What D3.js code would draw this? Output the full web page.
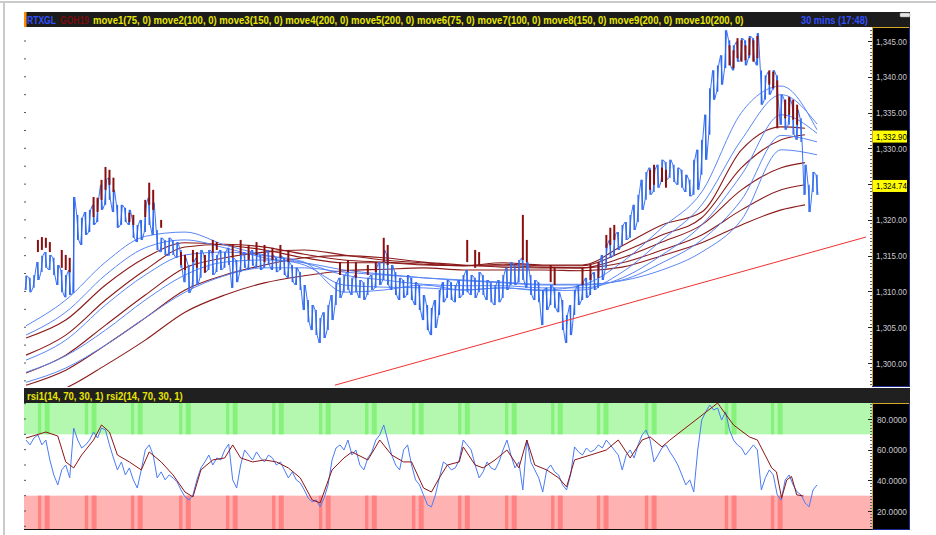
<!DOCTYPE html>
<html lang="en">
<head>
<meta charset="utf-8">
<style>
  html, body { margin:0; padding:0; background:#fff; overflow:hidden }
  svg { display:block; font-family: "Liberation Sans", Arial, sans-serif; }
</style>
</head>
<body>
<svg width="936" height="535"></svg>
<script src="https://cdn.jsdelivr.net/npm/d3@7"></script>
<script>
// --- RTXGL 30 min bars (high / low), one entry per bar
var blueHi = [
1312.2,1311.9,1312.3,1314.1,1315.0,1315.5,1315.1,1314.7,1313.7,1313.0,
1312.3,1313.0,1323.2,1320.7,1320.3,1321.1,1321.4,1322.1,1322.8,1324.9,
1325.6,1325.9,1324.2,1322.1,1322.1,1321.7,1321.4,1320.0,1319.3,1320.0,
1322.1,1323.1,1322.4,1318.6,1317.5,1317.2,1317.5,1317.2,1316.9,1315.8,
1314.7,1313.7,1314.1,1314.7,1315.8,1315.1,1315.8,1315.5,1315.1,1315.8,
1315.5,1316.1,1314.7,1314.4,1315.1,1315.5,1315.1,1315.8,1315.5,1315.1,
1315.4,1315.8,1315.1,1314.7,1315.0,1314.7,1314.1,1313.7,1313.3,1312.7,
1310.9,1308.8,1308.1,1307.4,1306.3,1307.1,1308.1,1309.5,1311.3,1311.9,
1312.3,1312.7,1311.9,1312.3,1311.6,1311.3,1311.9,1312.3,1313.3,1314.1,
1315.8,1315.1,1313.7,1312.7,1311.9,1311.6,1312.3,1311.9,1311.3,1310.9,
1309.5,1308.1,1307.7,1308.8,1310.2,1311.3,1311.6,1311.3,1310.9,1311.6,
1312.3,1313.0,1312.3,1311.9,1312.7,1312.3,1311.6,1311.3,1310.9,1311.6,
1312.3,1313.3,1314.1,1313.7,1314.4,1314.7,1314.1,1312.3,1311.6,1311.3,
1310.2,1310.5,1310.9,1310.5,1309.9,1308.8,1306.7,1308.1,1310.2,1310.9,
1311.3,1311.9,1312.3,1312.7,1313.7,1315.1,1316.5,1317.2,1317.9,1318.3,
1319.3,1319.7,1320.7,1322.1,1323.5,1325.6,1326.7,1327.3,1327.0,1327.7,
1328.4,1328.1,1328.4,1327.7,1327.3,1327.0,1326.3,1325.6,1328.4,1329.8,
1331.2,1334.7,1338.4,1340.9,1341.6,1343.0,1346.5,1345.1,1344.4,1344.9,
1345.4,1345.1,1345.7,1345.4,1346.1,1340.9,1340.2,1340.7,1340.9,1340.2,
1337.5,1336.8,1337.0,1336.1,1335.4,1334.2,1327.7,1324.9,1326.7,1326.3
];
var blueLo = [
1310.2,1309.9,1310.5,1311.6,1312.7,1313.3,1313.0,1312.3,1310.9,1309.9,
1309.2,1309.5,1309.8,1317.2,1316.5,1317.9,1318.3,1319.3,1319.7,1321.4,
1322.1,1322.8,1321.1,1318.9,1319.3,1319.7,1319.3,1317.5,1316.9,1317.2,
1318.3,1319.3,1317.9,1315.8,1315.5,1315.1,1315.0,1315.1,1314.7,1313.3,
1311.3,1309.8,1310.5,1310.9,1311.9,1312.7,1313.0,1312.3,1312.7,1313.0,
1313.3,1313.7,1310.5,1311.3,1312.7,1313.3,1313.0,1313.6,1313.3,1313.0,
1313.3,1313.7,1313.0,1312.7,1313.0,1312.3,1311.9,1311.3,1310.9,1310.2,
1307.4,1305.7,1304.6,1303.9,1302.8,1303.5,1304.6,1306.0,1308.1,1309.1,
1309.9,1310.2,1309.5,1309.9,1309.1,1308.8,1309.5,1310.2,1310.5,1310.9,
1311.6,1310.9,1310.2,1309.5,1308.8,1309.1,1309.5,1308.8,1308.1,1307.4,
1306.0,1304.6,1303.9,1304.9,1306.7,1308.5,1309.1,1308.8,1308.5,1309.1,
1309.5,1309.9,1309.5,1309.1,1309.9,1309.5,1308.8,1308.5,1308.1,1308.5,
1309.1,1310.2,1310.9,1310.9,1311.3,1311.6,1310.5,1309.5,1308.8,1308.5,
1305.3,1307.4,1308.1,1307.7,1307.1,1304.6,1302.8,1303.9,1306.7,1308.1,
1308.8,1309.1,1309.5,1310.2,1310.5,1311.6,1313.3,1314.7,1315.1,1315.8,
1316.5,1317.2,1317.5,1318.6,1319.7,1321.4,1322.8,1323.5,1323.9,1324.5,
1325.3,1325.6,1325.9,1325.3,1324.9,1324.5,1323.9,1323.3,1323.5,1324.2,
1326.3,1328.4,1331.9,1336.8,1337.9,1338.9,1341.2,1341.6,1340.9,1342.1,
1342.3,1341.6,1342.6,1342.3,1341.6,1336.1,1336.8,1337.5,1338.2,1336.8,
1333.3,1332.6,1333.3,1331.9,1331.2,1330.9,1323.5,1321.1,1323.9,1323.5
];

// --- GOH19 bars where they show: [bar, high, low]
var redBars = [
[3,1317.2,1315.5],[4,1317.6,1315.8],[5,1317.5,1316.1],[6,1316.9,1315.5],
[9,1315.8,1313.3],[10,1315.1,1313.0],[11,1314.7,1312.7],
[17,1323.2,1320.4],[18,1323.1,1321.1],[19,1325.6,1322.8],[20,1327.4,1324.2],[21,1327.0,1324.9],[22,1325.9,1323.9],
[26,1321.0,1319.7],[27,1320.7,1319.3],[30,1322.8,1320.4],[31,1325.2,1322.1],[32,1324.2,1321.4],[34,1320.0,1318.9],
[39,1315.5,1313.7],[40,1315.1,1313.0],[42,1315.8,1314.1],[43,1315.5,1313.3],[45,1315.1,1312.6],
[47,1317.2,1315.4],[48,1316.9,1315.8],[52,1316.5,1314.7],[54,1317.2,1315.1],[56,1316.5,1314.4],
[58,1316.9,1315.1],[60,1316.5,1314.1],[62,1316.1,1314.4],[64,1316.5,1314.7],[66,1315.8,1314.1],
[79,1314.1,1312.3],[81,1314.4,1312.7],[83,1314.1,1311.9],[86,1313.7,1312.3],[88,1314.1,1312.7],
[90,1317.5,1314.1],[91,1316.5,1313.7],[111,1317.2,1314.1],[113,1315.8,1313.3],[114,1315.5,1313.7],
[125,1320.7,1314.4],[126,1317.2,1314.1],[132,1313.7,1311.3],[133,1313.3,1310.9],
[140,1313.3,1310.9],[142,1313.7,1311.6],[144,1314.1,1311.9],
[146,1317.9,1316.1],[147,1318.9,1316.5],[148,1319.3,1317.2],
[157,1327.0,1324.2],[158,1327.7,1324.9],[160,1327.3,1325.3],[161,1327.0,1324.5],
[177,1344.4,1341.6],[178,1343.7,1341.2],[179,1345.4,1342.6],[180,1345.1,1342.1],[181,1344.4,1342.3],
[182,1345.4,1343.0],[183,1345.1,1342.1],[184,1345.7,1342.6],
[187,1340.9,1338.9],[188,1340.7,1338.4],[189,1339.5,1332.8],
[191,1336.8,1334.2],[192,1337.2,1334.7],[193,1336.8,1334.0],[194,1336.1,1333.3]
];

// --- moving averages, sampled every 10 bars
var maIdxBlue = [0,10,20,30,40,50,60,70,80,90,100,110,120,130,140,150,160,170,180,190,199];
var move1 = [1305.2,1308.8,1314.1,1317.7,1318.3,1316.5,1315.1,1314.1,1309.9,1310.2,1310.9,1310.2,1310.5,1310.2,1310.9,1314.1,1318.9,1323.9,1335.0,1338.7,1332.6];
var move2 = [1303.9,1307.1,1312.3,1316.1,1317.2,1316.1,1314.7,1313.7,1310.9,1310.6,1310.5,1310.2,1310.5,1310.1,1310.2,1312.7,1317.2,1322.1,1331.2,1337.5,1333.4];
var move3 = [1300.4,1303.2,1308.1,1312.3,1315.1,1315.5,1315.0,1314.0,1312.3,1311.6,1311.0,1310.8,1310.8,1310.5,1310.5,1311.9,1315.1,1319.3,1326.3,1334.7,1332.1];
var move4 = [1298.7,1301.0,1304.6,1308.8,1312.3,1314.1,1314.4,1314.0,1313.0,1312.4,1311.9,1311.5,1311.2,1310.9,1310.9,1311.6,1314.0,1317.2,1322.8,1331.8,1330.9];
var move5 = [1297.3,1299.3,1302.5,1306.3,1309.9,1312.2,1313.3,1313.3,1312.7,1312.3,1311.9,1311.6,1311.3,1311.0,1311.0,1311.5,1313.0,1315.5,1320.0,1329.8,1329.1];

var maIdxRed = [0,10,20,30,40,50,60,70,80,90,100,110,120,130,140,150,160,170,180,190,196];
var move6  = [1303.5,1306.0,1310.9,1314.7,1316.8,1316.5,1315.8,1314.7,1314.0,1314.0,1313.7,1313.6,1314.0,1313.7,1313.7,1316.4,1319.3,1321.1,1329.8,1333.0,1332.8];
var move7  = [1301.1,1303.9,1308.8,1313.0,1316.2,1316.6,1316.2,1315.2,1314.4,1314.1,1313.8,1313.6,1313.8,1313.6,1313.6,1315.5,1317.9,1320.3,1327.3,1331.2,1331.9];
var move8  = [1298.6,1301.1,1305.3,1309.5,1313.3,1314.7,1315.5,1315.8,1315.1,1314.4,1314.0,1313.6,1313.6,1313.4,1313.3,1314.7,1316.9,1319.3,1324.2,1327.3,1328.0];
var move9  = [1296.9,1299.0,1302.5,1306.3,1310.2,1312.3,1313.7,1314.7,1315.0,1314.7,1314.1,1313.7,1313.4,1313.3,1313.3,1314.0,1315.8,1317.9,1321.4,1324.2,1324.9];
var move10 = [1294.8,1296.5,1299.7,1303.2,1307.1,1309.5,1311.2,1312.2,1312.9,1313.1,1313.3,1313.0,1313.0,1313.0,1312.9,1313.4,1315.0,1316.8,1319.3,1321.4,1322.1];

// trend line [bar, price]
var trend = [[77.7, 1296.9], [211.3, 1317.6]];

// --- RSI
var rsi1 = [
66.3,63.1,67.6,69.6,63.1,66.3,53.3,43.5,37.0,46.8,
50.0,41.6,74.1,66.3,61.1,63.1,66.3,71.5,67.6,74.1,
72.8,63.1,54.6,46.8,52.0,43.5,48.1,40.3,35.0,46.8,
59.8,63.1,56.5,41.6,45.5,40.3,43.5,41.6,39.0,33.7,
29.2,27.2,30.5,40.3,48.1,52.0,56.5,50.0,54.6,53.3,
59.8,63.7,40.3,35.0,50.0,59.8,56.5,53.3,58.5,54.6,
52.0,56.5,54.6,50.0,52.0,46.8,41.6,45.5,40.3,38.3,
33.7,28.5,25.9,27.2,22.7,28.5,37.0,53.3,61.1,63.1,
59.8,66.3,56.5,59.8,50.0,46.8,54.6,58.5,66.3,69.6,
76.1,66.3,56.5,50.0,46.8,59.8,63.1,50.0,40.3,37.0,
30.5,24.0,22.7,30.5,41.6,52.0,50.0,46.8,48.1,53.3,
66.3,63.1,59.8,50.0,41.6,45.5,52.0,48.1,46.8,52.0,
59.8,66.3,56.5,48.1,52.0,33.7,66.3,52.0,46.8,41.6,
32.4,46.8,50.0,45.5,43.5,37.0,33.7,43.5,61.8,58.5,
56.5,61.1,58.5,59.8,63.1,61.1,66.3,63.1,59.8,56.5,
46.8,56.5,59.8,54.6,63.1,69.6,72.8,66.3,52.0,56.5,
61.1,63.1,58.5,54.6,50.0,43.5,37.0,40.3,32.4,59.8,
79.3,84.6,89.1,85.9,87.2,79.3,84.6,72.8,66.3,63.1,
61.1,56.5,59.8,63.1,59.8,33.7,41.6,46.8,43.5,30.5,
27.2,40.3,43.5,37.0,32.4,30.5,25.3,22.7,33.7,37.0
];
// rsi2: [bar, value]
var rsi2 = [
[0,67.6],[5,71.5],[8,68.9],[10,52.0],[12,48.1],[14,56.5],[17,66.3],[19,76.1],[21,71.5],[23,56.5],
[26,52.0],[29,46.8],[31,58.5],[34,52.0],[37,43.5],[40,32.4],[42,29.2],[44,46.8],[47,53.3],[50,54.6],
[52,63.1],[54,54.6],[57,52.0],[60,53.3],[63,52.0],[66,48.1],[69,41.6],[72,27.2],[74,25.3],[77,46.8],
[80,54.6],[82,58.5],[86,53.3],[89,66.3],[92,56.5],[95,52.0],[97,52.0],[100,35.0],[102,32.4],[104,41.6],
[106,50.0],[109,52.0],[110,61.8],[113,50.0],[115,48.1],[118,53.3],[121,59.8],[124,48.1],[126,66.3],[128,50.0],
[131,46.8],[134,41.6],[136,35.7],[138,53.3],[142,56.5],[146,59.8],[149,66.3],[152,54.6],[155,66.3],[157,68.3],
[160,61.8],[162,66.3],[174,90.4],[178,76.1],[182,68.3],[184,66.3],[187.6,48.1],[188.8,45.5],[190.1,28.5],
[191.4,40.3],[192.6,42.5],[193.9,30.5],[195.6,29.8]
];
// bar positions of the shaded session stripes
var stripeIdx = [3.0,14.8,26.4,38.5,50.3,61.9,73.7,85.3,97.1,108.7,120.5,132.1,143.6,155.7,175.8,187.4];

var priceTicks = d3.range(1300, 1346, 5);
var rsiTicks = [20, 40, 60, 80];
var lastLabels = [["1,332.90", 1332.90, 9], ["1,324.74", 1324.74, 0]];

var movesText = "move1(75, 0) move2(100, 0) move3(150, 0) move4(200, 0) move5(200, 0) move6(75, 0) move7(100, 0) move8(150, 0) move9(200, 0) move10(200, 0)";

// ---------------- layout
var svg = d3.select("svg");
var L = 24, R = 872, AX = 910;
var pTop = 27, pBot = 387, rTop = 403, rBot = 529;

var x = d3.scaleLinear().domain([0, 199]).range([26, 817]);
var y = d3.scaleLinear().domain([1300, 1345]).range([363, 41]);
var yr = d3.scaleLinear().domain([20, 80]).range([511, 419]);

var defs = svg.append("defs");
defs.append("clipPath").attr("id", "clipP").append("rect")
    .attr("x", L).attr("y", pTop).attr("width", R - L).attr("height", pBot - pTop);
defs.append("clipPath").attr("id", "clipR").append("rect")
    .attr("x", L).attr("y", rTop).attr("width", R - L).attr("height", rBot - rTop);

// text squeezed horizontally to a given width (narrow font look)
function fitText(t, x0, yy, w, col, size, bold) {
    var el = svg.append("text").attr("x", 0).attr("y", 0).text(t)
        .attr("fill", col).attr("font-size", size)
        .attr("font-weight", bold ? "bold" : "normal");
    var n = el.node().getComputedTextLength();
    el.attr("transform", "translate(" + x0 + "," + yy + ") scale(" + (w / n) + ",1)");
    return el;
}

// outer frame
svg.append("rect").attr("x", 0).attr("y", 1).attr("width", 936).attr("height", 2).attr("fill", "#cacaca");
svg.append("rect").attr("x", 3).attr("y", 1).attr("width", 2).attr("height", 534).attr("fill", "#cacaca");

// header
svg.append("rect").attr("x", L).attr("y", 12).attr("width", AX - L).attr("height", 15).attr("fill", "#1c1c1c");
svg.append("rect").attr("x", L).attr("y", 12).attr("width", 2.5).attr("height", 15).attr("fill", "#ff8c00");
fitText("RTXGL", 27, 23.5, 29, "#3050ff", 11, true);
fitText("GOH19", 60, 23.5, 29, "#7a0c0c", 11, true);
fitText(movesText, 93, 23.5, 651, "#e6e600", 11, true);
fitText("30 mins (17:48)", 801, 23.5, 67, "#3050ff", 11, true);
svg.append("rect").attr("x", 900).attr("y", 13).attr("width", 10).attr("height", 4).attr("rx", 1)
    .attr("fill", "#e4e4e4").attr("stroke", "#9a9a9a").attr("stroke-width", 0.5);

// ---------------- price panel
var gp = svg.append("g").attr("clip-path", "url(#clipP)");
var bars = d3.range(blueHi.length);

var blueMA = [move1, move2, move3, move4, move5];
var redMA = [move6, move7, move8, move9, move10];
var lineB = d3.line().curve(d3.curveMonotoneX)
    .x(function (d, k) { return x(maIdxBlue[k]); }).y(function (d) { return y(d); });
var lineR = d3.line().curve(d3.curveMonotoneX)
    .x(function (d, k) { return x(maIdxRed[k]); }).y(function (d) { return y(d); });
gp.selectAll(".mar").data(redMA).join("path").attr("class", "mar")
    .attr("d", lineR).attr("fill", "none").attr("stroke", "#8b1a1a").attr("stroke-width", 1.1);
gp.selectAll(".mab").data(blueMA).join("path").attr("class", "mab")
    .attr("d", lineB).attr("fill", "none").attr("stroke", "#5a86f5").attr("stroke-width", 1);

// price: a zigzag running high-low-high through the bars, then the bars
var zz = [];
bars.forEach(function (i) {
    var a = y(blueHi[i]), b = y(blueLo[i]);
    if (i % 2) { zz.push([x(i) - 1, a], [x(i) + 1, b]); }
    else { zz.push([x(i) - 1, b], [x(i) + 1, a]); }
});
gp.append("path").attr("d", d3.line()(zz))
    .attr("fill", "none").attr("stroke", "#3c74f4").attr("stroke-width", 1);
gp.selectAll(".bb").data(bars).join("line").attr("class", "bb")
    .attr("x1", function (i) { return x(i); }).attr("x2", function (i) { return x(i); })
    .attr("y1", function (i) { return y(blueHi[i]); }).attr("y2", function (i) { return y(blueLo[i]); })
    .attr("stroke", "#2f68ee").attr("stroke-width", 1.4);

gp.selectAll(".rb").data(redBars).join("line").attr("class", "rb")
    .attr("x1", function (d) { return x(d[0]); }).attr("x2", function (d) { return x(d[0]); })
    .attr("y1", function (d) { return y(d[1]); }).attr("y2", function (d) { return y(d[2]); })
    .attr("stroke", "#8a1010").attr("stroke-width", 2);

gp.append("line")
    .attr("x1", x(trend[0][0])).attr("y1", y(trend[0][1]))
    .attr("x2", x(trend[1][0])).attr("y2", y(trend[1][1]))
    .attr("stroke", "#f03030").attr("stroke-width", 1);

// left edge ticks
svg.selectAll(".lt").data(d3.range(1297.5, 1346, 2.5)).join("line").attr("class", "lt")
    .attr("x1", L).attr("x2", L + 2).attr("y1", function (d) { return y(d); }).attr("y2", function (d) { return y(d); })
    .attr("stroke", "#555").attr("stroke-width", 1);

// price axis
svg.append("rect").attr("x", R).attr("y", pTop).attr("width", AX - R).attr("height", pBot - pTop).attr("fill", "#000");
svg.append("line").attr("x1", R + 0.5).attr("x2", R + 0.5).attr("y1", pTop).attr("y2", pBot).attr("stroke", "#d4a62a");
svg.append("line").attr("x1", R).attr("x2", AX).attr("y1", pTop + 0.5).attr("y2", pTop + 0.5).attr("stroke", "#d4a62a");
svg.append("line").attr("x1", AX - 0.5).attr("x2", AX - 0.5).attr("y1", pTop).attr("y2", pBot).attr("stroke", "#1a2a90");
svg.append("line").attr("x1", R).attr("x2", AX).attr("y1", pBot - 0.5).attr("y2", pBot - 0.5).attr("stroke", "#1a2a90");

svg.selectAll(".pmin").data(d3.range(1297, 1347, 0.5)).join("line").attr("class", "pmin")
    .attr("x1", R - 2).attr("x2", R).attr("y1", function (d) { return Math.round(y(d)) + 0.5; }).attr("y2", function (d) { return Math.round(y(d)) + 0.5; })
    .attr("stroke", "#666").attr("stroke-width", 1);
svg.selectAll(".pmaj").data(priceTicks).join("line").attr("class", "pmaj")
    .attr("x1", R - 4).attr("x2", R).attr("y1", function (d) { return Math.round(y(d)) + 0.5; }).attr("y2", function (d) { return Math.round(y(d)) + 0.5; })
    .attr("stroke", "#222").attr("stroke-width", 1);
var fmtP = d3.format(",.2f");
priceTicks.forEach(function (d) {
    fitText(fmtP(d), 876, y(d) + 3.5, 31, "#c8c8d0", 9.5, false);
});

lastLabels.forEach(function (d) {
    var yy = y(d[1]) + d[2];
    svg.append("rect").attr("x", R + 1).attr("y", yy - 6).attr("width", 34).attr("height", 12).attr("fill", "#ffff00");
    fitText(d[0], 876, yy + 3.5, 31, "#000", 9.5, false);
});

// ---------------- RSI panel
svg.append("rect").attr("x", L).attr("y", 388).attr("width", AX - L).attr("height", 15).attr("fill", "#202020");
fitText("rsi1(14, 70, 30, 1) rsi2(14, 70, 30, 1)", 27, 399.5, 156, "#e6e600", 11, true);

var gr = svg.append("g").attr("clip-path", "url(#clipR)");
gr.append("rect").attr("x", L).attr("y", rTop).attr("width", R - L).attr("height", yr(70) - rTop).attr("fill", "#b4f8b0");
gr.append("rect").attr("x", L).attr("y", yr(30)).attr("width", R - L).attr("height", rBot - yr(30)).attr("fill", "#ffb2b2");
var bands = [];
stripeIdx.forEach(function (s) { bands.push([s, s + 0.85]); bands.push([s + 1.7, s + 2.95]); });
[[rTop, yr(70), "#86f27c"], [yr(30), rBot, "#ff8282"]].forEach(function (z) {
    gr.selectAll(null).data(bands).join("rect")
        .attr("x", function (b) { return x(b[0]); }).attr("width", function (b) { return x(b[1]) - x(b[0]); })
        .attr("y", z[0]).attr("height", z[1] - z[0]).attr("fill", z[2]);
});

gr.append("path").datum(rsi1)
    .attr("d", d3.line().x(function (d, i) { return x(i); }).y(function (d) { return yr(d); }))
    .attr("fill", "none").attr("stroke", "#4a7bf5").attr("stroke-width", 1);
gr.append("path").datum(rsi2)
    .attr("d", d3.line().x(function (d) { return x(d[0]); }).y(function (d) { return yr(d[1]); }))
    .attr("fill", "none").attr("stroke", "#8b1515").attr("stroke-width", 1);

svg.append("line").attr("x1", L).attr("x2", R).attr("y1", rBot + 0.5).attr("y2", rBot + 0.5).attr("stroke", "#111");
svg.selectAll(".rlt").data(d3.range(10, 91, 10)).join("line").attr("class", "rlt")
    .attr("x1", L).attr("x2", L + 2).attr("y1", function (d) { return yr(d); }).attr("y2", function (d) { return yr(d); })
    .attr("stroke", "#555");

svg.append("rect").attr("x", R).attr("y", rTop).attr("width", AX - R).attr("height", rBot - rTop).attr("fill", "#000");
svg.append("line").attr("x1", R + 0.5).attr("x2", R + 0.5).attr("y1", rTop).attr("y2", rBot).attr("stroke", "#d4a62a");
svg.append("line").attr("x1", R).attr("x2", AX).attr("y1", rTop + 0.5).attr("y2", rTop + 0.5).attr("stroke", "#d4a62a");
svg.append("line").attr("x1", AX - 0.5).attr("x2", AX - 0.5).attr("y1", rTop).attr("y2", rBot + 1).attr("stroke", "#1a2a90");
svg.append("line").attr("x1", R).attr("x2", AX).attr("y1", rBot + 0.5).attr("y2", rBot + 0.5).attr("stroke", "#1a2a90");

svg.selectAll(".rmin").data(d3.range(10, 91, 2)).join("line").attr("class", "rmin")
    .attr("x1", R - 2).attr("x2", R).attr("y1", function (d) { return Math.round(yr(d)) + 0.5; }).attr("y2", function (d) { return Math.round(yr(d)) + 0.5; })
    .attr("stroke", "#666");
svg.selectAll(".rmaj").data(rsiTicks).join("line").attr("class", "rmaj")
    .attr("x1", R - 4).attr("x2", R).attr("y1", function (d) { return Math.round(yr(d)) + 0.5; }).attr("y2", function (d) { return Math.round(yr(d)) + 0.5; })
    .attr("stroke", "#222");
var fmtR = d3.format(".4f");
rsiTicks.forEach(function (d) {
    fitText(fmtR(d), 877, yr(d) + 3.5, 30, "#c8c8d0", 9.5, false);
});
</script>
</body>
</html>
